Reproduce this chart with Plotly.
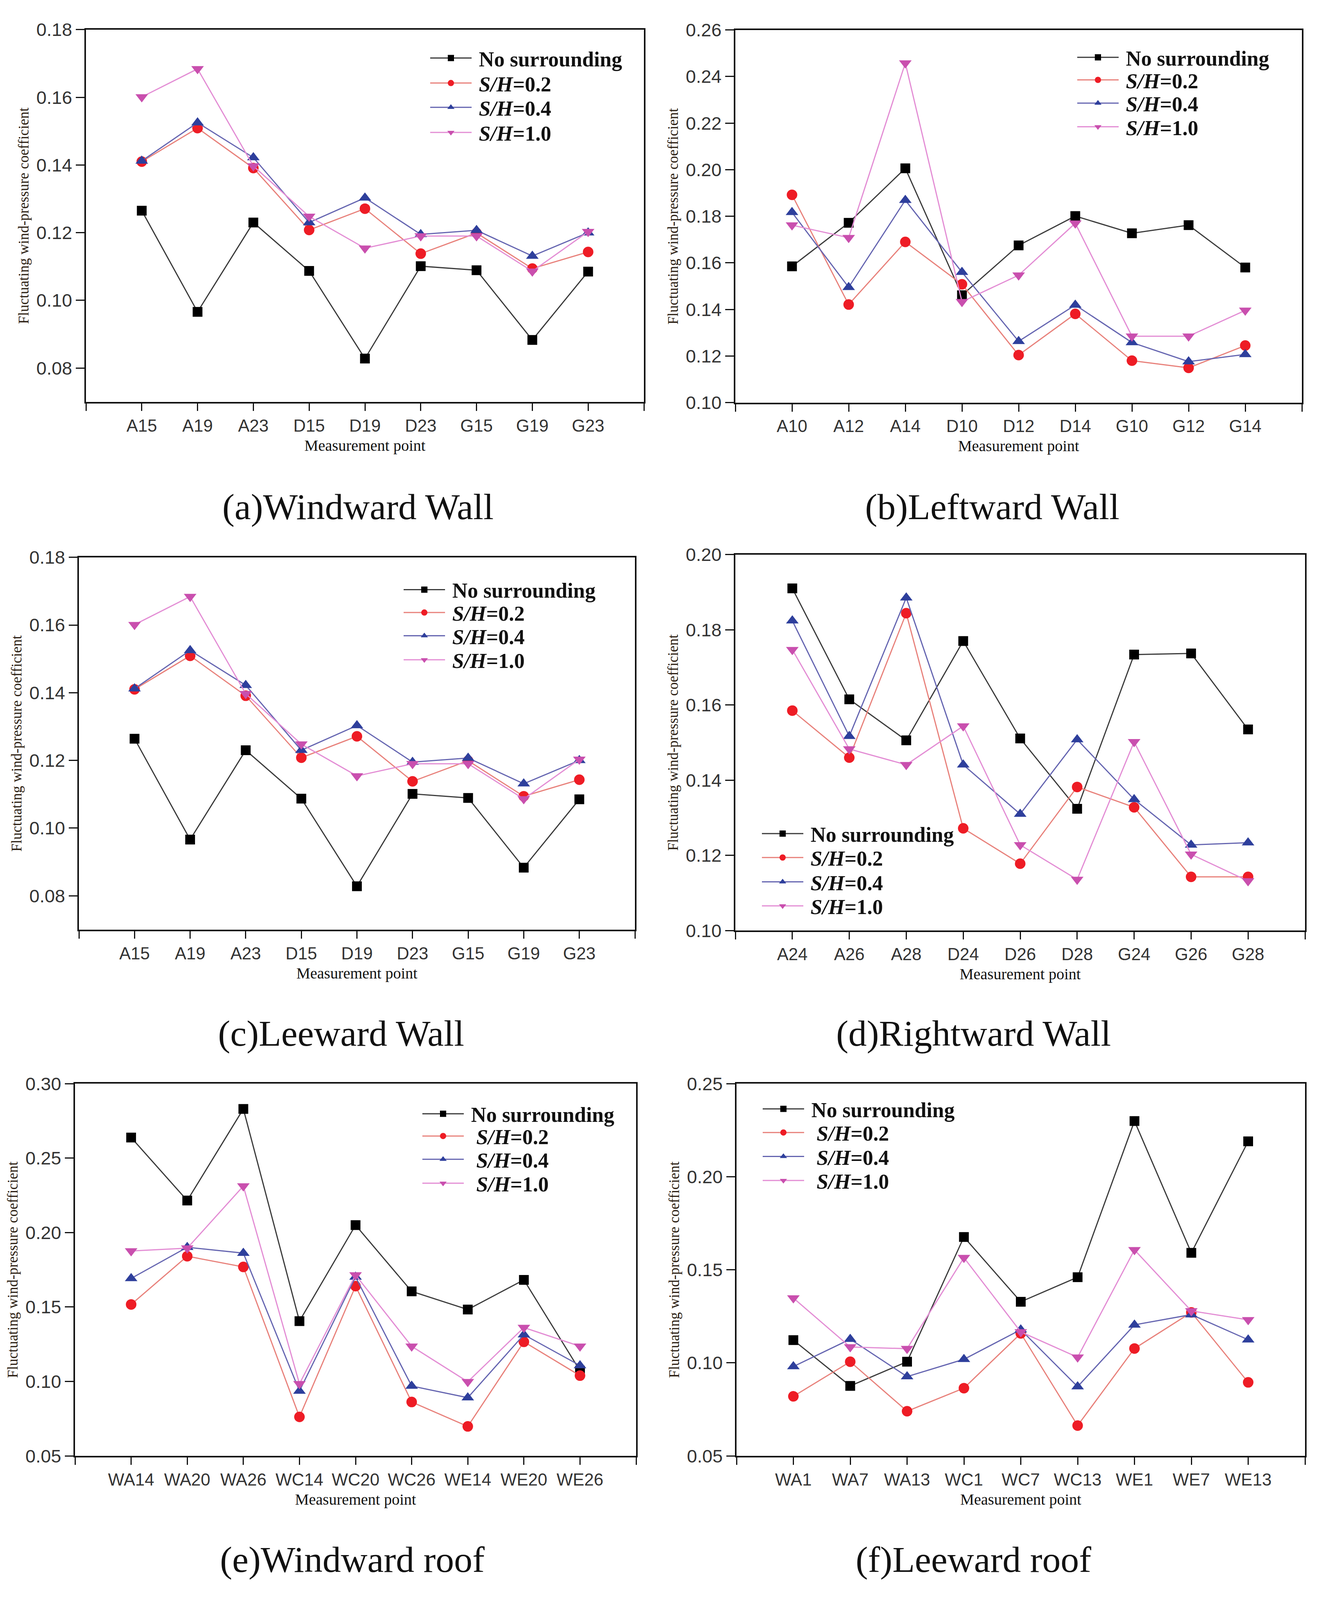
import plotly.graph_objects as go

# ---------------- data ----------------
series_labels = ["<b>No surrounding</b>", "<b><i>S/H</i>=0.2</b>",
                 "<b><i>S/H</i>=0.4</b>", "<b><i>S/H</i>=1.0</b>"]

cats_a = ["A15", "A19", "A23", "D15", "D19", "D23", "G15", "G19", "G23"]
a_none = [0.1265, 0.0966, 0.1230, 0.1087, 0.0828, 0.1101, 0.1089, 0.0883, 0.1085]
a_02 = [0.1410, 0.1509, 0.1391, 0.1208, 0.1271, 0.1138, 0.1199, 0.1094, 0.1143]
a_04 = [0.1412, 0.1525, 0.1422, 0.1230, 0.1303, 0.1195, 0.1207, 0.1131, 0.1200]
a_10 = [0.1601, 0.1684, 0.1397, 0.1248, 0.1154, 0.1190, 0.1190, 0.1086, 0.1203]

cats_b = ["A10", "A12", "A14", "D10", "D12", "D14", "G10", "G12", "G14"]
b_none = [0.1585, 0.1772, 0.2006, 0.1461, 0.1675, 0.1801, 0.1727, 0.1762, 0.1580]
b_02 = [0.1892, 0.1421, 0.1690, 0.1508, 0.1204, 0.1381, 0.1180, 0.1149, 0.1245]
b_04 = [0.1817, 0.1495, 0.1869, 0.1560, 0.1263, 0.1419, 0.1258, 0.1176, 0.1207]
b_10 = [0.1762, 0.1708, 0.2458, 0.1433, 0.1547, 0.1770, 0.1285, 0.1285, 0.1396]

cats_c = ["A15", "A19", "A23", "D15", "D19", "D23", "G15", "G19", "G23"]
c_none = [0.1264, 0.0966, 0.1230, 0.1087, 0.0828, 0.1101, 0.1089, 0.0883, 0.1085]
c_02 = [0.1410, 0.1509, 0.1391, 0.1208, 0.1271, 0.1138, 0.1199, 0.1094, 0.1143]
c_04 = [0.1412, 0.1525, 0.1422, 0.1230, 0.1303, 0.1195, 0.1207, 0.1131, 0.1200]
c_10 = [0.1601, 0.1684, 0.1397, 0.1248, 0.1154, 0.1190, 0.1190, 0.1086, 0.1203]

cats_d = ["A24", "A26", "A28", "D24", "D26", "D28", "G24", "G26", "G28"]
d_none = [0.1910, 0.1615, 0.1506, 0.1770, 0.1511, 0.1324, 0.1734, 0.1737, 0.1535]
d_02 = [0.1585, 0.1460, 0.1844, 0.1272, 0.1178, 0.1382, 0.1328, 0.1143, 0.1143]
d_04 = [0.1824, 0.1517, 0.1885, 0.1441, 0.1310, 0.1508, 0.1349, 0.1228, 0.1234]
d_10 = [0.1747, 0.1483, 0.1441, 0.1544, 0.1228, 0.1136, 0.1502, 0.1203, 0.1132]

cats_e = ["WA14", "WA20", "WA26", "WC14", "WC20", "WC26", "WE14", "WE20", "WE26"]
e_none = [0.2638, 0.2215, 0.2830, 0.1405, 0.2050, 0.1605, 0.1483, 0.1682, 0.1072]
e_02 = [0.1517, 0.1841, 0.1769, 0.0762, 0.1640, 0.0862, 0.0698, 0.1266, 0.1039]
e_04 = [0.1692, 0.1901, 0.1862, 0.0936, 0.1702, 0.0969, 0.0891, 0.1314, 0.1107]
e_10 = [0.1876, 0.1895, 0.2312, 0.0984, 0.1715, 0.1236, 0.0998, 0.1362, 0.1236]

cats_f = ["WA1", "WA7", "WA13", "WC1", "WC7", "WC13", "WE1", "WE7", "WE13"]
f_none = [0.1122, 0.0876, 0.1006, 0.1676, 0.1328, 0.1460, 0.2299, 0.1591, 0.2190]
f_02 = [0.0820, 0.1006, 0.0740, 0.0864, 0.1158, 0.0663, 0.1077, 0.1271, 0.0895]
f_04 = [0.0980, 0.1127, 0.0926, 0.1019, 0.1178, 0.0872, 0.1204, 0.1259, 0.1124]
f_10 = [0.1348, 0.1085, 0.1076, 0.1565, 0.1166, 0.1030, 0.1607, 0.1279, 0.1231]

captions = ["(a)Windward Wall", "(b)Leftward Wall", "(c)Leeward Wall",
            "(d)Rightward Wall", "(e)Windward roof", "(f)Leeward roof"]

# ---------------- page geometry ----------------
REF_H = 4480          # reference height
VIS_H = 4096          # visible height of the browser page
MARGIN = 8            # default body margin of the html page
SY = VIS_H / REF_H
WF = 3386
HF = VIS_H - MARGIN


def px(x):
    return (x - MARGIN) / WF


def py(y):
    return 1 - (y * SY - MARGIN) / HF


# ---------------- styles ----------------
line_colors = ["#3a3a3a", "#e8807a", "#6464b0", "#e38cd4"]
marker_colors = ["#000000", "#ee1c25", "#2e3f9c", "#c94fae"]
symbols = ["square", "circle", "triangle-up", "triangle-down"]
msizes = [25, 27, 28, 28]

# panel boxes in reference pixels: (left, right, top, bottom)
boxes = [
    (220, 1648, 54, 1110),
    (1882, 3332, 55, 1112),
    (202, 1625, 1551, 2607),
    (1882, 3340, 1543, 2610),
    (192, 1628, 3044, 4100),
    (1885, 3340, 3044, 4100),
]
yranges = [(0.07, 0.18), (0.10, 0.26), (0.07, 0.18), (0.10, 0.20), (0.05, 0.30), (0.05, 0.25)]
yticks = [
    [0.08, 0.10, 0.12, 0.14, 0.16, 0.18],
    [0.10, 0.12, 0.14, 0.16, 0.18, 0.20, 0.22, 0.24, 0.26],
    [0.08, 0.10, 0.12, 0.14, 0.16, 0.18],
    [0.10, 0.12, 0.14, 0.16, 0.18, 0.20],
    [0.05, 0.10, 0.15, 0.20, 0.25, 0.30],
    [0.05, 0.10, 0.15, 0.20, 0.25],
]
# legend line start (x) and row centres (y), reference pixels
leg_x = [1101, 2757, 1033, 1950, 1081, 1952]
leg_rows = [
    [135, 206, 275, 346],
    [133, 197, 263, 330],
    [1643, 1708, 1774, 1842],
    [2335, 2403, 2472, 2540],
    [3130, 3193, 3259, 3327],
    [3116, 3183, 3251, 3319],
]
leg_pad = [1, 1, 1, 1, 2, 2]
cappos = [(916, 1407), (2539, 1407), (873, 2901), (2491, 2901), (902, 4394), (2491, 4394)]

panels = [
    (cats_a, [a_none, a_02, a_04, a_10]),
    (cats_b, [b_none, b_02, b_04, b_10]),
    (cats_c, [c_none, c_02, c_04, c_10]),
    (cats_d, [d_none, d_02, d_04, d_10]),
    (cats_e, [e_none, e_02, e_04, e_10]),
    (cats_f, [f_none, f_02, f_04, f_10]),
]

SANS = "Liberation Sans, Arial, sans-serif"
SERIF = "Liberation Serif, Times New Roman, serif"

fig = go.Figure()
layout = dict(
    width=WF, height=HF, margin=dict(l=0, r=0, t=0, b=0),
    paper_bgcolor="white", plot_bgcolor="white", showlegend=True,
)
annotations = []
n_leg = 0

for i, (cats, series) in enumerate(panels):
    k = "" if i == 0 else str(i + 1)
    xname, yname = "x" + k, "y" + k
    xs = list(range(1, len(cats) + 1))
    for j, vals in enumerate(series):
        n_leg += 1
        legname = "legend" if n_leg == 1 else "legend" + str(n_leg)
        pad = "&nbsp;" if j == 0 else "&nbsp;" * leg_pad[i]
        fig.add_trace(go.Scatter(
            x=xs, y=vals, mode="lines+markers", name=pad + series_labels[j],
            xaxis=xname, yaxis=yname, legend=legname,
            line=dict(color=line_colors[j], width=3),
            marker=dict(symbol=symbols[j], size=msizes[j], color=marker_colors[j],
                        line=dict(width=0)),
            cliponaxis=False,
        ))
        layout[legname] = dict(
            x=px(leg_x[i] - 5), y=py(leg_rows[i][j]), xanchor="left", yanchor="middle",
            xref="paper", yref="paper",
            bgcolor="rgba(0,0,0,0)", borderwidth=0,
            font=dict(family=SERIF, size=54, color="#111"),
            itemwidth=106, itemsizing="trace",
        )
    l, r, t, b = boxes[i]
    y0, y1 = yranges[i]
    layout["xaxis" + k] = dict(
        domain=[px(l), px(r)], anchor=yname, range=[0, len(cats) + 1],
        tickmode="array", tickvals=list(range(0, len(cats) + 2)),
        ticktext=[""] + cats + [""],
        ticks="outside", ticklen=19, tickwidth=3, tickcolor="#111",
        showline=True, linecolor="#111", linewidth=4, mirror=True,
        showgrid=False, zeroline=False,
        tickfont=dict(family=SANS, size=44, color="#333"),
        title=dict(text="Measurement point", standoff=14,
                   font=dict(family=SERIF, size=40, color="#111")),
        fixedrange=True,
    )
    layout["yaxis" + k] = dict(
        domain=[py(b), py(t)], anchor=xname, range=[y0, y1],
        tickmode="array", tickvals=yticks[i], tickformat=".2f",
        ticks="outside", ticklen=22, tickwidth=3, tickcolor="#111",
        showline=True, linecolor="#111", linewidth=4, mirror=True,
        showgrid=False, zeroline=False,
        tickfont=dict(family=SANS, size=47, color="#333"),
        title=dict(text="Fluctuating wind-pressure coefficient", standoff=9,
                   font=dict(family=SERIF, size=37, color="#2a1c10")),
        fixedrange=True,
    )
    cx, cy = cappos[i]
    annotations.append(dict(
        x=px(cx), y=py(cy), xref="paper", yref="paper",
        text=captions[i], showarrow=False, xanchor="center", yanchor="middle",
        font=dict(family=SERIF, size=94, color="#111"),
    ))

layout["annotations"] = annotations
fig.update_layout(**layout)
fig.write_html("out.html")
